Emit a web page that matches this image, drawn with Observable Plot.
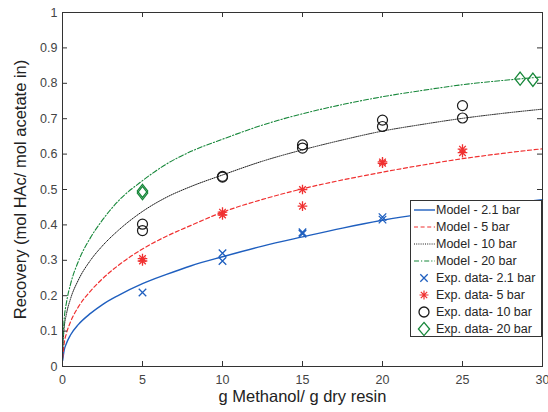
<!DOCTYPE html>
<html><head><meta charset="utf-8">
<script src="https://cdn.jsdelivr.net/npm/d3@7"></script>
<script src="https://cdn.jsdelivr.net/npm/@observablehq/plot@0.6"></script>
<style>
body{margin:0;background:#fff;}
#wrap{position:relative;width:548px;height:412px;font-family:"Liberation Sans",Arial,sans-serif;}
#legend{position:absolute;left:410px;top:200px;width:132px;height:137px;background:#fff;border:1px solid #333;box-sizing:border-box;}
.row{position:absolute;left:0;height:17px;display:flex;align-items:center;font-size:12.5px;color:#262626;white-space:nowrap;}
.row svg{display:block;}
</style></head><body><div id="wrap"></div>
<script>
// ---- data ----
const xTicks = [0, 5, 10, 15, 20, 25, 30];
const yTicks = [0, 0.1, 0.2, 0.3, 0.4, 0.5, 0.6, 0.7, 0.8, 0.9, 1];
const xLabel = "g Methanol/ g dry resin";
const yLabel = "Recovery (mol HAc/ mol acetate in)";

const modelNames = ["Model - 2.1 bar", "Model - 5 bar", "Model - 10 bar", "Model - 20 bar"];
const expNames = ["Exp. data- 2.1 bar", "Exp. data- 5 bar", "Exp. data- 10 bar", "Exp. data- 20 bar"];

const modelX   = [0.01, 0.1, 0.25, 0.5, 1, 1.75, 2.5, 3.5, 5, 6.5, 8, 10, 12.5, 15, 17.5, 20, 22.5, 25, 27.5, 30];
const model21  = [0.017, 0.045, 0.066, 0.089, 0.119, 0.15, 0.175, 0.201, 0.234, 0.26, 0.284, 0.31, 0.34, 0.366, 0.391, 0.413, 0.431, 0.446, 0.459, 0.471];
const model5   = [0.024, 0.064, 0.094, 0.126, 0.169, 0.213, 0.248, 0.286, 0.332, 0.368, 0.398, 0.436, 0.472, 0.502, 0.527, 0.549, 0.569, 0.587, 0.602, 0.615];
const model10  = [0.047, 0.107, 0.149, 0.191, 0.245, 0.3, 0.341, 0.385, 0.438, 0.478, 0.508, 0.541, 0.58, 0.612, 0.64, 0.665, 0.684, 0.701, 0.715, 0.727];
const model20  = [0.057, 0.13, 0.181, 0.232, 0.298, 0.364, 0.414, 0.468, 0.525, 0.572, 0.607, 0.642, 0.682, 0.714, 0.74, 0.762, 0.78, 0.796, 0.808, 0.818];

const exp21X = [5, 10, 10, 15, 15, 20, 20];
const exp21Y = [0.209, 0.32, 0.298, 0.379, 0.375, 0.422, 0.415];
const exp5X  = [5, 5, 10, 10, 15, 15, 20, 20, 25, 25];
const exp5Y  = [0.305, 0.298, 0.436, 0.428, 0.500, 0.453, 0.578, 0.574, 0.614, 0.604];
const exp10X = [5, 5, 10, 10, 15, 15, 20, 20, 25, 25];
const exp10Y = [0.402, 0.384, 0.537, 0.535, 0.626, 0.617, 0.696, 0.678, 0.737, 0.702];
const exp20X = [5, 5, 28.6, 29.4];
const exp20Y = [0.496, 0.490, 0.813, 0.810];

// ---- styles ----
const cBlue = "#1f5fbf", cRed = "#f03030", cBlack = "#1a1a1a", cGreen = "#17873a";
const modelStyles = [
  {stroke: cBlue, dash: null, width: 1.4},
  {stroke: cRed, dash: "4,2.6", width: 1.2},
  {stroke: cBlack, dash: "1,1.2", width: 1},
  {stroke: cGreen, dash: "5,2,1.2,2", width: 1.1}
];
const modelSeries = [model21, model5, model10, model20];
const modelRows = modelSeries.flatMap((ys, k) => modelX.map((x, i) => ({x, y: ys[i], k})));
const zip = (xs, ys) => xs.map((x, i) => ({x, y: ys[i]}));

const diamondSym = {draw(ctx, size) { const w = 5.2, h = 6.6; ctx.moveTo(0, -h); ctx.lineTo(w, 0); ctx.lineTo(0, h); ctx.lineTo(-w, 0); ctx.closePath(); }};

const W = 548, H = 412, mL = 62, mR = 6, mT = 12, mB = 46;
const fw = W - mL - mR, fh = H - mT - mB, tk = 5;

const marks = [];
modelStyles.forEach((s, k) => {
  marks.push(Plot.line(modelRows.filter(d => d.k === k), {x: "x", y: "y", stroke: s.stroke, strokeWidth: s.width, strokeDasharray: s.dash, curve: "monotone-x"}));
});
marks.push(
  Plot.dot(zip(exp21X, exp21Y), {x: "x", y: "y", symbol: "times", r: 3.5, stroke: cBlue, strokeWidth: 1.3}),
  Plot.dot(zip(exp5X, exp5Y), {x: "x", y: "y", symbol: "plus", r: 3.2, stroke: cRed, strokeWidth: 1.3}),
  Plot.dot(zip(exp5X, exp5Y), {x: "x", y: "y", symbol: "times", r: 3.1, stroke: cRed, strokeWidth: 1.3}),
  Plot.dot(zip(exp10X, exp10Y), {x: "x", y: "y", symbol: "circle", r: 5, stroke: cBlack, fill: "none", strokeWidth: 1.2}),
  Plot.dot(zip(exp20X, exp20Y), {x: "x", y: "y", symbol: diamondSym, r: 5, stroke: cGreen, fill: "none", strokeWidth: 1.3}),
  Plot.frame({stroke: "#333", strokeWidth: 1}),
  // tick labels
  Plot.axisX(xTicks, {anchor: "bottom", tickSize: 0, tickPadding: 9, fontSize: 12.5, fill: "#444", label: null}),
  Plot.axisY(yTicks, {anchor: "left", tickSize: 0, tickPadding: 5, fontSize: 12.5, fill: "#444", label: null, tickFormat: d => String(+d.toFixed(1))}),
  // inward ticks on all four sides
  Plot.tickX(xTicks, {x: d => d, stroke: "#333", insetTop: fh - tk}),
  Plot.tickX(xTicks, {x: d => d, stroke: "#333", insetBottom: fh - tk}),
  Plot.tickY(yTicks, {y: d => d, stroke: "#333", insetRight: fw - tk}),
  Plot.tickY(yTicks, {y: d => d, stroke: "#333", insetLeft: fw - tk}),
  Plot.text([xLabel], {frameAnchor: "bottom", dy: 35, fontSize: 16.5, fill: "#222", text: d => d}),
  Plot.text([yLabel], {frameAnchor: "left", dx: -42, rotate: -90, textAnchor: "middle", fontSize: 16.5, fill: "#222", text: d => d})
);

const chart = Plot.plot({
  width: W, height: H,
  marginLeft: mL, marginRight: mR, marginTop: mT, marginBottom: mB,
  style: {fontFamily: '"Liberation Sans", Arial, sans-serif', background: "#fff"},
  x: {domain: [0, 30]},
  y: {domain: [0, 1]},
  marks
});
const wrap = document.getElementById("wrap");
wrap.appendChild(chart);

// ---- legend (overlay inside plot area) ----
const legend = document.createElement("div");
legend.id = "legend";
wrap.appendChild(legend);
const rowTops = [210, 227, 244, 261, 277.5, 294.5, 311.5, 328.5];
function lineSwatch(s) {
  return `<svg width="24" height="10"><line x1="2" x2="23" y1="5" y2="5" stroke="${s.stroke}" stroke-width="${s.width}" ${s.dash ? `stroke-dasharray="${s.dash}"` : ""}/></svg>`;
}
const markerSvgs = [
  `<svg width="24" height="14"><path d="M8.3,3.3L15.7,10.7M8.3,10.7L15.7,3.3" stroke="${cBlue}" stroke-width="1.3"/></svg>`,
  `<svg width="24" height="14"><path d="M12,2.5V11.5M7.5,7H16.5M8.8,3.8L15.2,10.2M8.8,10.2L15.2,3.8" stroke="${cRed}" stroke-width="1.2"/></svg>`,
  `<svg width="24" height="14"><circle cx="12" cy="7" r="5" fill="none" stroke="${cBlack}" stroke-width="1.3"/></svg>`,
  `<svg width="24" height="16"><path d="M12,1.4L17.6,8L12,14.6L6.4,8Z" fill="none" stroke="${cGreen}" stroke-width="1.3"/></svg>`
];
modelNames.forEach((name, k) => {
  const r = document.createElement("div");
  r.className = "row";
  r.style.top = (rowTops[k] - 200 - 9.5) + "px";
  r.style.left = "1px";
  r.innerHTML = lineSwatch(modelStyles[k]) + `<span>${name}</span>`;
  legend.appendChild(r);
});
expNames.forEach((name, k) => {
  const r = document.createElement("div");
  r.className = "row";
  r.style.top = (rowTops[k + 4] - 200 - 9.5) + "px";
  r.style.left = "1px";
  r.innerHTML = markerSvgs[k] + `<span>${name}</span>`;
  legend.appendChild(r);
});
</script></body></html>
